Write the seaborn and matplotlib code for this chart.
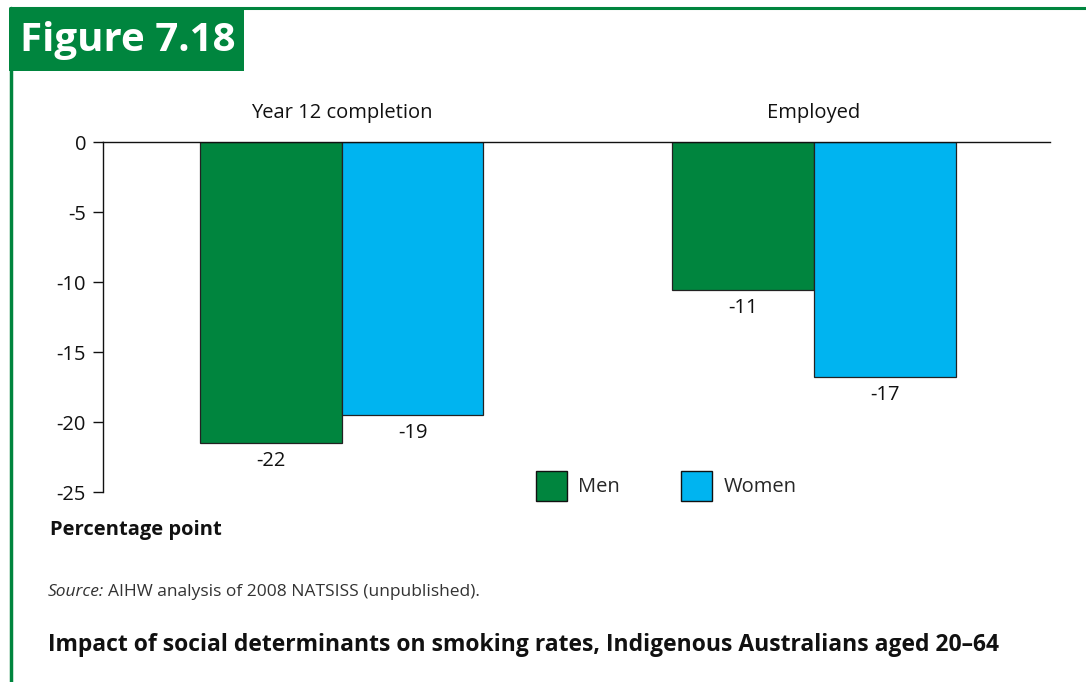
import matplotlib
matplotlib.use("Agg")
import matplotlib.pyplot as plt
import seaborn as sns
import pandas as pd
from matplotlib.patches import Rectangle
from matplotlib.lines import Line2D

categories = ["Year 12 completion", "Employed"]
groups = ["Men", "Women"]
men_values = [-21.5, -10.6]
women_values = [-19.5, -16.8]
men_labels = ["-22", "-11"]
women_labels = ["-19", "-17"]
yticks = [0, -5, -10, -15, -20, -25]

GREEN = "#00853E"
BLUE = "#00B4F0"

df = pd.DataFrame({
    "category": categories * 2,
    "sex": ["Men"] * len(categories) + ["Women"] * len(categories),
    "value": men_values + women_values,
})

sns.set_style("white")
plt.rcParams["font.family"] = ["Open Sans", "DejaVu Sans"]

fig = plt.figure(figsize=(10.86, 6.82), dpi=100)
W, H = 1086, 682
ax = fig.add_axes([103 / W, 1 - 492 / H, (1050 - 103) / W, (492 - 142) / H])

sns.barplot(data=df, x="category", y="value", hue="sex", order=categories,
            hue_order=groups, palette=[GREEN, BLUE], width=0.6, gap=0,
            edgecolor="#222222", linewidth=0.9, saturation=1, ax=ax)

FS = 14.5
ax.set_ylim(-25, 0)
ax.set_xlim(-0.506, 1.5)
ax.set_yticks(yticks)
ax.set_yticklabels([str(t) for t in yticks])
ax.set_xlabel("")
ax.set_ylabel("")
ax.xaxis.tick_top()
ax.tick_params(axis="x", length=0, pad=13.5, labelsize=FS, colors="#111111")
ax.tick_params(axis="y", length=7.2, width=1.0, pad=5.0, labelsize=FS,
               colors="#111111", direction="out", left=True)
for s in ["right", "bottom"]:
    ax.spines[s].set_visible(False)
ax.spines["left"].set_color("#111111")
ax.spines["top"].set_color("#111111")
ax.spines["left"].set_linewidth(1.0)
ax.spines["top"].set_linewidth(1.0)

for cont, labs in zip(ax.containers, [men_labels, women_labels]):
    ax.bar_label(cont, labels=labs, padding=5.5, fontsize=FS, color="#111111")

leg = ax.get_legend()
if leg is not None:
    leg.remove()
handles = [Rectangle((0, 0), 1, 1, facecolor=c, edgecolor="#111111", linewidth=1.0)
           for c in [GREEN, BLUE]]
fig.legend(handles, groups, loc="center", bbox_to_anchor=(666 / W, 1 - 486 / H),
           ncol=2, frameon=False, fontsize=FS, handlelength=1.58, handleheight=1.9,
           handletextpad=0.55, columnspacing=3.0)

# Frame decoration
fig.add_artist(Line2D([10 / W, 1.0], [1 - 8 / H, 1 - 8 / H], color=GREEN, lw=2.2))
fig.add_artist(Line2D([11 / W, 11 / W], [0, 1 - 8 / H], color=GREEN, lw=2.5))
fig.add_artist(Rectangle((9 / W, 1 - 71 / H), (244 - 9) / W, (71 - 9) / H,
                         transform=fig.transFigure, facecolor=GREEN, edgecolor="none"))
fig.text(20 / W, 1 - 41 / H, "Figure 7.18", fontsize=29, fontweight="bold",
         color="white", va="center", ha="left")

fig.text(50 / W, 1 - 530 / H, "Percentage point", fontsize=14.5, fontweight="bold",
         color="#111111", va="center", ha="left")
t1 = fig.text(48 / W, 1 - 592 / H, "Source:", fontsize=12.5, fontstyle="italic",
              color="#333333", va="center", ha="left")
fig.canvas.draw()
bb = t1.get_window_extent()
fig.text((bb.x1 + 4) / W, 1 - 592 / H, "AIHW analysis of 2008 NATSISS (unpublished).",
         fontsize=12.5, color="#333333", va="center", ha="left")
fig.text(48 / W, 1 - 645 / H,
         "Impact of social determinants on smoking rates, Indigenous Australians aged 20\u201364",
         fontsize=16.5, fontweight="bold", color="#111111", va="center", ha="left")

fig.savefig("out.png", dpi=100)
